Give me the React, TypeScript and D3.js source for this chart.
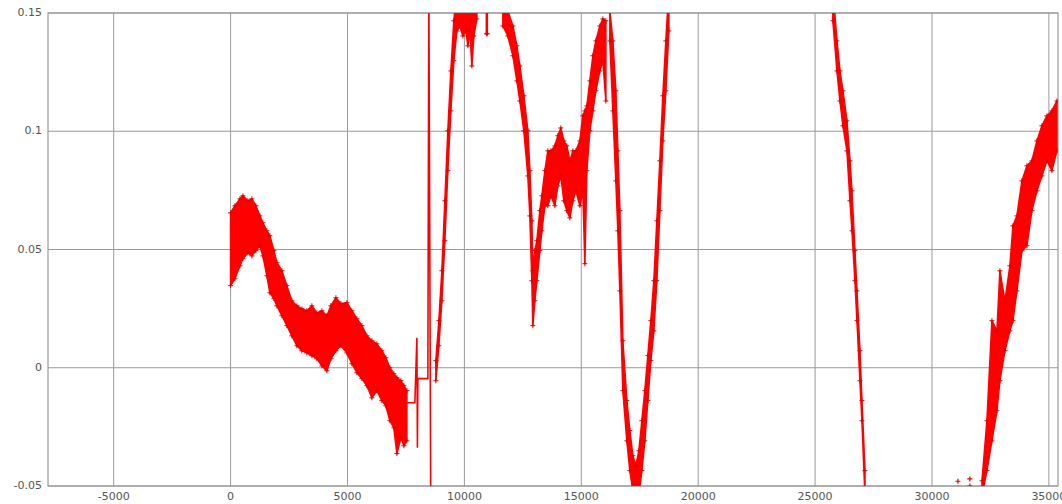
import React from "react";
import * as d3 from "d3";

// Each band sample: [x, upper y, lower y]
const band1: [number, number, number][] = [
  [0, 0.0655, 0.0347], [184, 0.0685, 0.0376], [398, 0.0714, 0.0431], [526, 0.0727, 0.0461],
  [740, 0.0706, 0.0486], [911, 0.0714, 0.0473], [1082, 0.0685, 0.0495], [1253, 0.0642, 0.0516],
  [1381, 0.0613, 0.0473], [1553, 0.0579, 0.0389], [1681, 0.0558, 0.0317], [1852, 0.0495, 0.0292],
  [1980, 0.0444, 0.0262], [2194, 0.041, 0.022], [2408, 0.0347, 0.0178], [2622, 0.0283, 0.0135],
  [2836, 0.0262, 0.0093], [3049, 0.0249, 0.0072], [3263, 0.0241, 0.0063], [3477, 0.0262, 0.0051],
  [3691, 0.0232, 0.0038], [3905, 0.0241, 0.0008], [4119, 0.022, -0.0013], [4290, 0.0262, 0.0038],
  [4504, 0.0296, 0.0072], [4718, 0.0271, 0.0093], [4974, 0.0275, 0.0063], [5188, 0.0241, 0.0017],
  [5402, 0.0207, -0.0021], [5616, 0.0178, -0.0046], [5829, 0.0135, -0.0076], [6043, 0.0114, -0.0127],
  [6257, 0.0101, -0.0097], [6471, 0.0072, -0.0139], [6642, 0.0042, -0.0161], [6813, 0.0, -0.0224],
  [6984, -0.0025, -0.0254], [7113, -0.0042, -0.0363], [7284, -0.0055, -0.0296], [7412, -0.0076, -0.033],
  [7540, -0.0097, -0.0309],
];

// Thin trace after the first band: [x, y]
const trace1: [number, number][] = [
  [7540, -0.0148], [7882, -0.0148], [7968, 0.0127], [7990, -0.0338], [8011, -0.0046],
  [8438, -0.0046], [8480, 0.16], [8560, -0.056],
];

const band2: [number, number, number][] = [
  [8780, 0.003, -0.0055], [8909, 0.0199, 0.0093], [9037, 0.041, 0.0283], [9165, 0.0706, 0.0537],
  [9293, 0.1002, 0.0833], [9421, 0.1255, 0.1086], [9549, 0.1467, 0.1298], [9678, 0.16, 0.1424],
  [9806, 0.16, 0.1445], [9935, 0.16, 0.1403], [10063, 0.16, 0.1424], [10149, 0.16, 0.1361],
  [10234, 0.16, 0.1424], [10320, 0.1467, 0.1276], [10405, 0.16, 0.1403], [10533, 0.16, 0.1475],
];

const band2b: [number, number, number][] = [
  [10940, 0.155, 0.1412], [10980, 0.155, 0.1412],
];

const band3: [number, number, number][] = [
  [11646, 0.16, 0.1445], [11860, 0.1509, 0.1403], [12074, 0.1445, 0.1319], [12245, 0.1361, 0.1213],
  [12373, 0.1276, 0.1128], [12544, 0.115, 0.1002], [12715, 0.1002, 0.0811], [12800, 0.0833, 0.0642],
  [12886, 0.0621, 0.0368], [12929, 0.041, 0.0178], [13014, 0.0495, 0.0283], [13100, 0.0537, 0.0368],
  [13228, 0.0664, 0.0495], [13314, 0.0727, 0.0579], [13442, 0.0833, 0.0685], [13570, 0.0917, 0.0685],
  [13699, 0.0917, 0.0727], [13870, 0.0938, 0.0685], [13998, 0.0981, 0.0769], [14126, 0.1014, 0.0811],
  [14255, 0.0959, 0.0706], [14383, 0.0938, 0.0664], [14511, 0.0875, 0.0634], [14640, 0.0917, 0.0706],
  [14768, 0.0917, 0.0748], [14939, 0.0959, 0.0685], [15067, 0.1065, 0.0748], [15153, 0.1086, 0.044],
  [15238, 0.1107, 0.0833], [15367, 0.1213, 0.1002], [15495, 0.1319, 0.1086], [15623, 0.1382, 0.1171],
  [15794, 0.1445, 0.1255], [15923, 0.1475, 0.1298], [16051, 0.1467, 0.1128],
];

const band4: [number, number, number][] = [
  [16222, 0.1509, 0.1382], [16350, 0.1382, 0.1086], [16479, 0.1171, 0.079], [16564, 0.0917, 0.0579],
  [16650, 0.0664, 0.0325], [16778, 0.0114, -0.0097], [16949, -0.0139, -0.0309], [17077, -0.0266, -0.0435],
  [17206, -0.0372, -0.052], [17334, -0.0414, -0.0562], [17462, -0.0351, -0.0541], [17591, -0.0224, -0.0435],
  [17719, -0.0097, -0.0309], [17847, 0.0051, -0.0139], [17976, 0.0199, 0.003], [18104, 0.0368, 0.0156],
  [18232, 0.0621, 0.0368], [18361, 0.0875, 0.0664], [18489, 0.115, 0.0959], [18617, 0.1382, 0.1171],
  [18745, 0.16, 0.1424],
];

const band5: [number, number, number][] = [
  [25760, 0.16, 0.1467], [25936, 0.1382, 0.1255], [26064, 0.1255, 0.1128], [26192, 0.1171, 0.1023],
  [26363, 0.1044, 0.0917], [26492, 0.0875, 0.0706], [26577, 0.0748, 0.0579], [26705, 0.0495, 0.0368],
  [26791, 0.0325, 0.0199], [26919, 0.0072, -0.0055], [27004, -0.0139, -0.0224], [27133, -0.0435, -0.0541],
];

const band6: [number, number, number][] = [
  [32140, -0.0478, -0.0541], [32350, -0.0224, -0.0435], [32564, 0.0199, -0.0309], [32778, 0.0156, -0.0182],
  [32906, 0.041, -0.0055], [33120, 0.0283, 0.0072], [33334, 0.0431, 0.0156], [33462, 0.06, 0.0199],
  [33633, 0.0642, 0.0325], [33847, 0.079, 0.0495], [34061, 0.0854, 0.0516], [34275, 0.0875, 0.0664],
  [34488, 0.0959, 0.0748], [34702, 0.1023, 0.0811], [34916, 0.1065, 0.0875], [35130, 0.1086, 0.0833],
  [35344, 0.1128, 0.0917],
];

const strayPoints: [number, number][] = [
  [31110, -0.048], [31110, -0.051], [31620, -0.047], [31620, -0.05],
];

const bands = [band1, band2, band2b, band3, band4, band5, band6];
const traces = [trace1];

const xTicks = [-5000, 0, 5000, 10000, 15000, 20000, 25000, 30000, 35000];
const yTicks = [-0.05, 0, 0.05, 0.1, 0.15];
const yTickLabels = ["-0.05", "0", "0.05", "0.1", "0.15"];

const W = 1062;
const H = 504;
const plot = { left: 48, right: 1058, top: 13, bottom: 486 };

export default function App() {
  const x = d3.scaleLinear().domain([-7810, 35390]).range([plot.left, plot.right]);
  const y = d3.scaleLinear().domain([-0.05, 0.15]).range([plot.bottom, plot.top]);

  const area = d3
    .area<[number, number, number]>()
    .x((d) => x(d[0]))
    .y0((d) => y(d[2]))
    .y1((d) => y(d[1]));
  const line = d3
    .line<[number, number]>()
    .x((d) => x(d[0]))
    .y((d) => y(d[1]));

  const red = "#ff0000";
  const plus = "M-2.5,0H2.5M0,-2.5V2.5";
  const grid = "#9a9a9a";

  return (
    <svg
      width={W}
      height={H}
      style={{ position: "absolute", left: 0, top: 0, background: "#fff" }}
      fontFamily="DejaVu Sans, sans-serif"
    >
      <defs>
        <clipPath id="plotClip">
          <rect x={plot.left} y={plot.top} width={plot.right - plot.left} height={plot.bottom - plot.top} />
        </clipPath>
      </defs>
      {xTicks.map((t) => (
        <line key={"gx" + t} x1={x(t)} x2={x(t)} y1={plot.top} y2={plot.bottom} stroke={grid} strokeWidth={1} />
      ))}
      {yTicks.map((t) => (
        <line key={"gy" + t} x1={plot.left} x2={plot.right} y1={y(t)} y2={y(t)} stroke={grid} strokeWidth={1} />
      ))}
      <rect
        x={plot.left}
        y={plot.top}
        width={plot.right - plot.left}
        height={plot.bottom - plot.top}
        fill="none"
        stroke={grid}
        strokeWidth={1.2}
      />
      <g clipPath="url(#plotClip)">
        {bands.map((b, i) => (
          <path key={"b" + i} d={area(b) || ""} fill={red} stroke={red} strokeWidth={1.6} strokeLinejoin="round" />
        ))}
        {traces.map((t, i) => (
          <path key={"t" + i} d={line(t) || ""} fill="none" stroke={red} strokeWidth={1.6} />
        ))}
        {bands.map((b, i) =>
          b.map((d, j) => (
            <g key={"m" + i + "_" + j}>
              <path d={plus} transform={`translate(${x(d[0])},${y(d[1])})`} stroke="#e00000" strokeWidth={1} />
              <path d={plus} transform={`translate(${x(d[0])},${y(d[2])})`} stroke="#e00000" strokeWidth={1} />
            </g>
          ))
        )}
        {strayPoints.map((p, i) => (
          <path key={"s" + i} d={plus} transform={`translate(${x(p[0])},${y(p[1])})`} stroke="#e00000" strokeWidth={1.2} />
        ))}
      </g>
      {yTicks.map((t, i) => (
        <text
          key={"yl" + t}
          x={plot.left - 6}
          y={y(t)}
          textAnchor="end"
          dominantBaseline="middle"
          fontSize={11}
          fill="#555"
        >
          {yTickLabels[i]}
        </text>
      ))}
      {xTicks.map((t) => (
        <text
          key={"xl" + t}
          x={x(t)}
          y={497}
          textAnchor="middle"
          dominantBaseline="middle"
          fontSize={11}
          fill="#555"
        >
          {String(t)}
        </text>
      ))}
    </svg>
  );
}
